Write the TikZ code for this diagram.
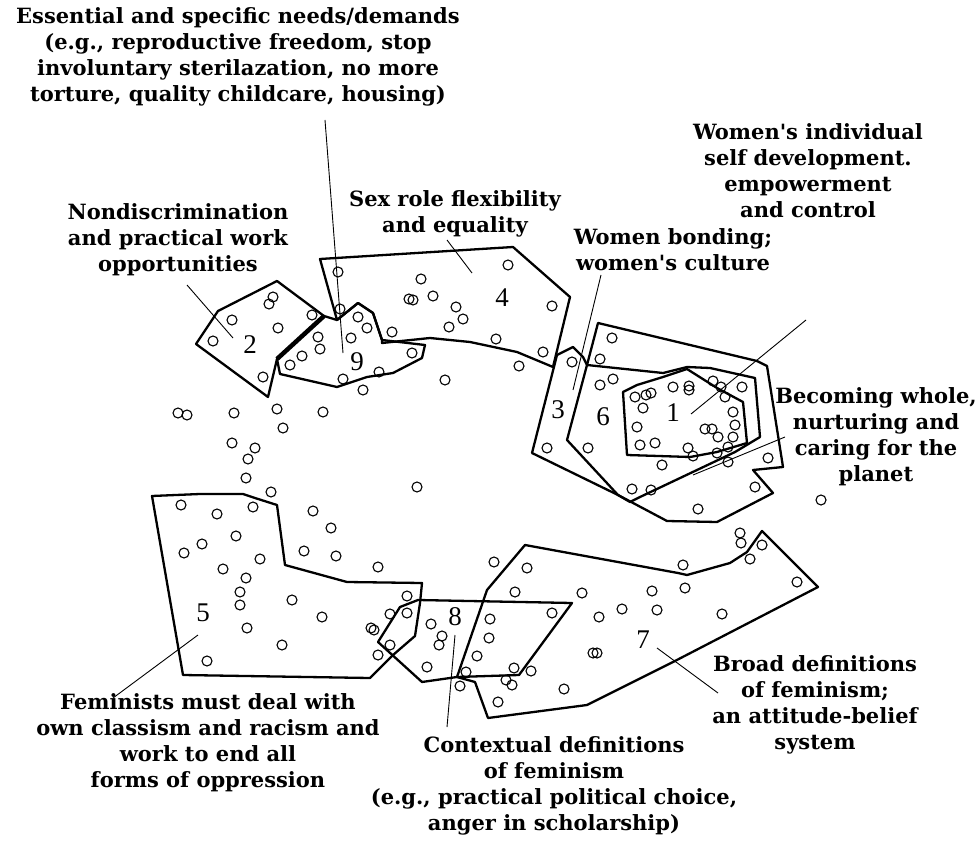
\documentclass[tikz,border=0pt]{standalone}
\usepackage{fontspec}
\newfontfamily\lblfont{DejaVu Serif}
\newfontfamily\numfont{Liberation Serif}
\begin{document}
\begin{tikzpicture}[x=1pt,y=-1pt,
  lbl/.style={font=\lblfont\bfseries\fontsize{21}{26}\selectfont, align=center, inner sep=0pt},
  num/.style={font=\numfont\fontsize{27}{27}\selectfont, inner sep=0pt},
  poly/.style={line width=2.3pt, line join=round},
  thickedge/.style={line width=4.5pt},
  dot/.style={line width=1.1pt},
  leader/.style={line width=0.9pt}]
\fill[white] (0,0) rectangle (979,842);
\useasboundingbox (0,0) rectangle (979,842);

% ---------- polygons ----------
\draw[poly] (277,281) -- (324,316) -- (277,359) -- (268,397) -- (196,344) -- (218,311) -- cycle; % 2
\draw[poly] (324,316) -- (337,320) -- (358,303) -- (373,313) -- (382,340) -- (425,345) -- (422,358) -- (393,373) -- (367,377) -- (337,387) -- (280,374) -- (277,359) -- cycle; % 9
\draw[thickedge] (324,316) -- (277,359);
\draw[poly] (320,259) -- (513,247) -- (570,297) -- (553,367) -- (517,352) -- (470,342) -- (430,338) -- (382,343) -- (382,340) -- (373,313) -- (358,303) -- (337,320) -- cycle; % 4
\draw[poly] (573,347) -- (583,357) -- (587,365) -- (625,369) -- (663,373) -- (687,367) -- (710,368) -- (755,378) -- (760,437) -- (735,452) -- (640,497) -- (630,502) -- (618,495) -- (532,453) -- (557,355) -- cycle; % 3
\draw[poly] (598,323) -- (757,361) -- (767,366) -- (783,467) -- (753,470) -- (773,493) -- (717,522) -- (667,521) -- (618,495) -- (567,440) -- (587,365) -- cycle; % 6
\draw[poly] (623,392) -- (637,385) -- (663,377) -- (687,369) -- (717,388) -- (743,402) -- (747,443) -- (717,452) -- (690,457) -- (627,455) -- cycle; % 1
\draw[poly] (152,496) -- (200,494) -- (243,494) -- (255,498) -- (277,505) -- (285,565) -- (347,582) -- (422,583) -- (420,603) -- (415,636) -- (393,655) -- (370,678) -- (183,675) -- cycle; % 5
\draw[poly] (418,600) -- (572,603) -- (519,675) -- (457,677) -- (422,682) -- (378,642) -- (400,607) -- cycle; % 8
\draw[poly] (525,545) -- (678,573) -- (687,575) -- (730,563) -- (747,552) -- (762,531) -- (818,587) -- (673,662) -- (587,705) -- (488,718) -- (475,682) -- (457,677) -- (487,590) -- cycle; % 7

% ---------- points ----------
\foreach \p in {(338,272),(421,279),(409,299),(413,300),(433,296),(273,297),(269,304),(232,320),(213,341),(278,328),(312,315),(340,309),(358,317),(367,328),(392,332),(351,338),(318,337),(320,349),(302,356),(290,365),(412,353),(379,372),(343,379),(363,390),(263,377),
(508,265),(456,307),(463,319),(449,327),(552,306),(496,339),(543,352),(519,366),(445,380),(572,362),
(178,413),(187,415),(234,413),(277,409),(323,412),(283,428),(232,443),(255,448),(248,459),(246,478),(271,492),(417,487),
(181,505),(217,514),(253,507),(313,511),(331,528),(236,536),(202,544),(184,553),(304,551),(336,556),(260,559),(223,569),(378,567),(246,578),(240,592),(240,605),(292,600),(322,617),(247,628),(282,645),(207,661),
(407,596),(390,614),(407,613),(371,628),(374,630),(390,645),(378,655),(427,667),(431,624),(442,636),(439,645),(490,619),(489,638),(477,656),
(494,562),(527,568),(515,592),(582,593),(652,591),(685,588),(683,565),(740,533),(741,543),(750,559),(762,545),(722,614),(657,610),(622,609),(599,617),(552,613),(593,653),(597,653),(466,672),(514,668),(531,671),(506,680),(512,685),(460,686),(498,702),(564,689),(797,582),
(612,338),(600,359),(600,385),(613,379),(635,397),(646,395),(651,393),(643,408),(673,387),(689,386),(689,390),(713,381),(721,387),(725,397),(742,387),(733,412),(735,425),(705,429),(712,429),(718,437),(733,437),(728,447),(717,453),(728,462),(688,448),(693,456),(655,443),(640,445),(662,465),(637,427),(547,448),(588,448),(768,458),(755,487),(632,489),(651,490),(698,509),(821,500)}
  \draw[dot] \p circle[radius=5pt];

% ---------- cluster numbers ----------
\node[num] (n1) at (673,413) {1};
\node[num] (n2) at (250,345) {2};
\node[num] (n3) at (558,410) {3};
\node[num] (n4) at (502,298) {4};
\node[num] (n5) at (203,613) {5};
\node[num] (n6) at (603,417) {6};
\node[num] (n7) at (643,640) {7};
\node[num] (n8) at (455,617) {8};
\node[num] (n9) at (357,362) {9};

% ---------- labels ----------
\node[lbl] (t9) at (238,57) {Essential and specific needs/demands\\(e.g., reproductive freedom, stop\\involuntary sterilazation, no more\\torture, quality childcare, housing)};
\node[lbl] (t2) at (178,240) {Nondiscrimination\\and practical work\\opportunities};
\node[lbl] (t4) at (455,214) {Sex role flexibility\\and equality};
\node[lbl] (t3) at (673,250) {Women bonding;\\women's culture};
\node[lbl] (t1) at (808,171) {Women's individual\\self development.\\empowerment\\and control};
\node[lbl] (t6) at (876,437) {Becoming whole,\\nurturing and\\caring for the\\planet};
\node[lbl] (t7) at (815,705) {Broad definitions\\of feminism;\\an attitude-belief\\system};
\node[lbl] (t8) at (554,786) {Contextual definitions\\of feminism\\(e.g., practical political choice,\\anger in scholarship)};
\node[lbl] (t5) at (208,743) {Feminists must deal with\\own classism and racism and\\work to end all\\forms of oppression};

% ---------- leaders ----------
\coordinate (a9) at (325,120); \coordinate (b9) at (343,353);
\coordinate (a2) at (187,285); \coordinate (b2) at (233,338);
\coordinate (a4) at (447,240); \coordinate (b4) at (472,273);
\coordinate (a3) at (601,275); \coordinate (b3) at (573,390);
\coordinate (a1) at (806,320); \coordinate (b1) at (691,414);
\coordinate (a6) at (785,437); \coordinate (b6) at (693,475);
\coordinate (a5) at (113,698); \coordinate (b5) at (198,635);
\coordinate (a8) at (447,727); \coordinate (b8) at (455,635);
\coordinate (a7) at (718,693); \coordinate (b7) at (657,648);
\foreach \i in {9,2,4,3,1,6,5,8,7} \draw[leader] (a\i) -- (b\i);
\end{tikzpicture}
\end{document}
